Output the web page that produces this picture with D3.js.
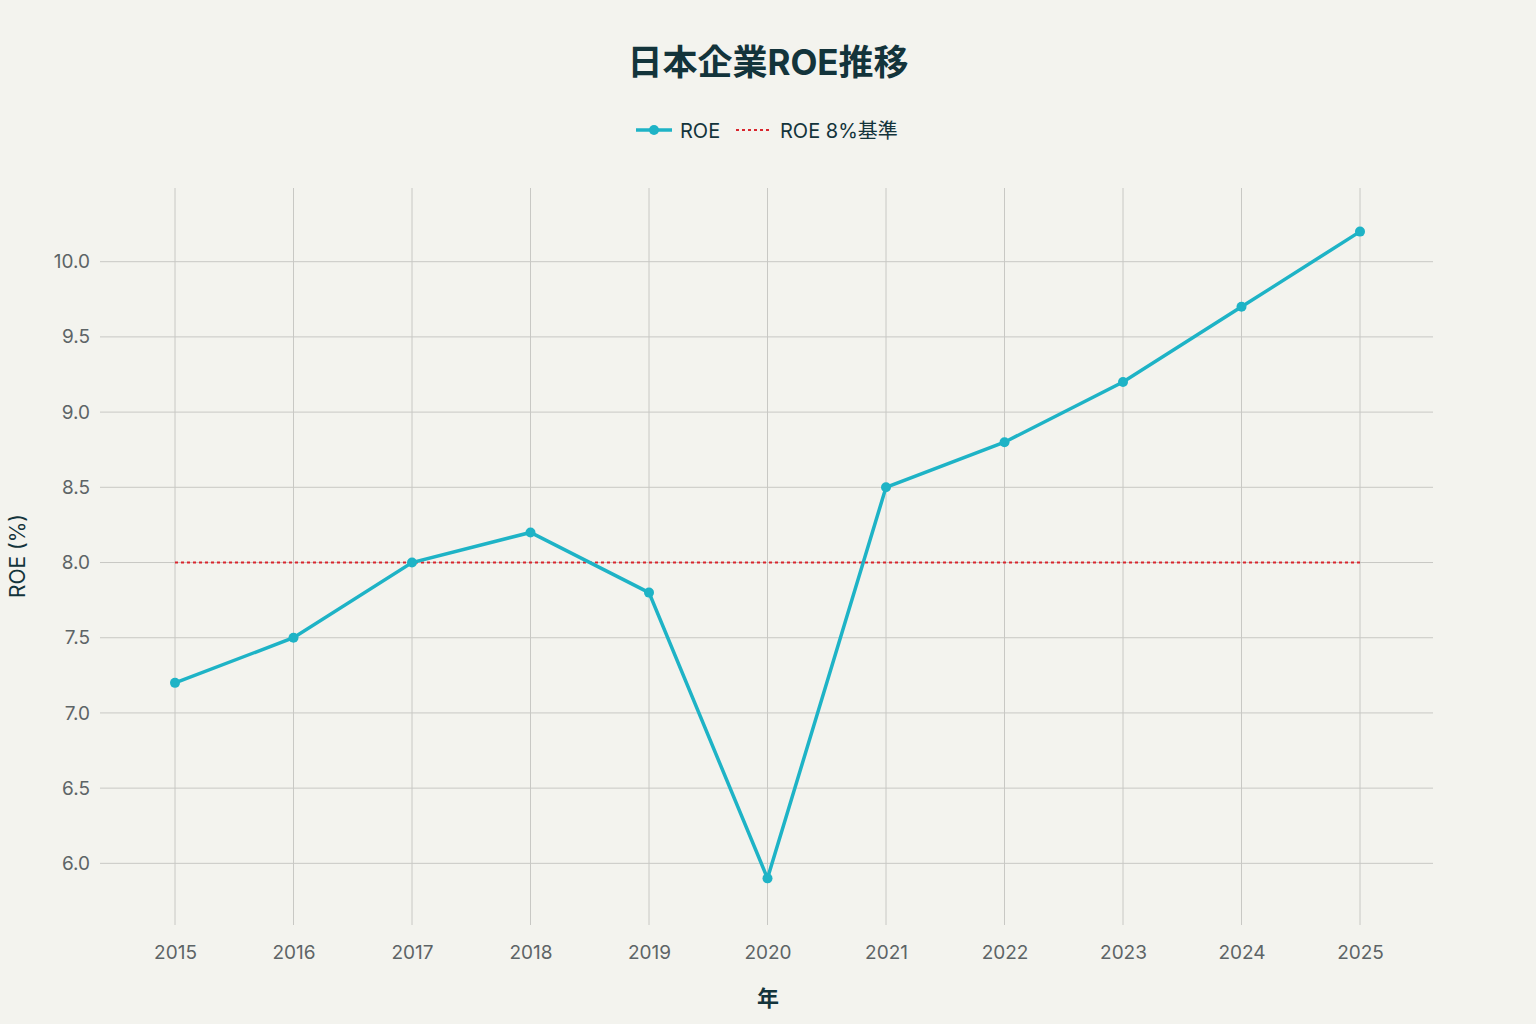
<!DOCTYPE html>
<html><head><meta charset="utf-8">
<script src="https://cdn.jsdelivr.net/npm/d3@7"></script>
<style>
body{margin:0;background:#f3f3ee;}
text{font-family:Inter,"Noto Sans CJK JP",sans-serif;}
</style></head>
<body><svg width="1536" height="1024"></svg>
<script>
const years = [2015,2016,2017,2018,2019,2020,2021,2022,2023,2024,2025];
const roe = [7.2,7.5,8.0,8.2,7.8,5.9,8.5,8.8,9.2,9.7,10.2];
const benchmark = 8;
const yTicks = [6.0,6.5,7.0,7.5,8.0,8.5,9.0,9.5,10.0];

const svg = d3.select("svg");
svg.append("rect").attr("width",1536).attr("height",1024).attr("fill","#f3f3ee");
const pLeft=100, pRight=1433, pTop=188, pBottom=925;
const x = d3.scaleLinear().domain([2015,2025]).range([175,1360]);
const y = d3.scaleLinear().domain([5.59,10.49]).range([pBottom,pTop]);

// grid
svg.append("g").selectAll("line").data(years).enter().append("line")
  .attr("x1",d=>x(d)).attr("x2",d=>x(d)).attr("y1",pTop).attr("y2",pBottom)
  .attr("stroke","#c8c8c4").attr("stroke-width",1);
svg.append("g").selectAll("line").data(yTicks).enter().append("line")
  .attr("x1",pLeft).attr("x2",pRight).attr("y1",d=>y(d)).attr("y2",d=>y(d))
  .attr("stroke","#c8c8c4").attr("stroke-width",1);

// axes
const xa = svg.append("g").attr("transform","translate(0,"+pBottom+")")
  .call(d3.axisBottom(x).tickValues(years).tickFormat(d3.format("d")).tickSize(0).tickPadding(21));
const ya = svg.append("g").attr("transform","translate("+pLeft+",0)")
  .call(d3.axisLeft(y).tickValues(yTicks).tickFormat(d3.format(".1f")).tickSize(0).tickPadding(10));
[xa,ya].forEach(a=>{a.select(".domain").remove();
  a.selectAll("text").attr("fill","#5d6466").style("font-size","19px");});

// benchmark
svg.append("line").attr("x1",x(2015)).attr("x2",x(2025))
  .attr("y1",y(benchmark)).attr("y2",y(benchmark))
  .attr("stroke","#d9262e").attr("stroke-width",2).attr("stroke-dasharray","3,3");

// line
const line = d3.line().x((d,i)=>x(years[i])).y(d=>y(d));
svg.append("path").datum(roe).attr("d",line).attr("fill","none")
  .attr("stroke","#1eb3c6").attr("stroke-width",3.5);
svg.selectAll(".pt").data(roe).enter().append("circle")
  .attr("cx",(d,i)=>x(years[i])).attr("cy",d=>y(d)).attr("r",5).attr("fill","#1eb3c6");

// titles
svg.append("text").attr("x",768).attr("y",75).attr("text-anchor","middle")
  .attr("fill","#13343b").style("font-size","35px").style("font-weight","bold").text("日本企業ROE推移");
svg.append("text").attr("x",768).attr("y",1006).attr("text-anchor","middle")
  .attr("fill","#13343b").style("font-size","22px").style("font-weight","bold").text("年");
svg.append("text").attr("transform","translate(25,556) rotate(-90)").attr("text-anchor","middle")
  .attr("fill","#13343b").style("font-size","21px").text("ROE (%)");

// legend
const lg = svg.append("g");
lg.append("line").attr("x1",636).attr("x2",672).attr("y1",130).attr("y2",130).attr("stroke","#1eb3c6").attr("stroke-width",3.5);
lg.append("circle").attr("cx",654).attr("cy",130).attr("r",5).attr("fill","#1eb3c6");
lg.append("text").attr("x",680).attr("y",138).attr("fill","#13343b").style("font-size","20px").text("ROE");
lg.append("line").attr("x1",736).attr("x2",772).attr("y1",130).attr("y2",130).attr("stroke","#d9262e").attr("stroke-width",2).attr("stroke-dasharray","3,3");
lg.append("text").attr("x",780).attr("y",138).attr("fill","#13343b").style("font-size","20px").text("ROE 8%基準");
</script></body></html>
